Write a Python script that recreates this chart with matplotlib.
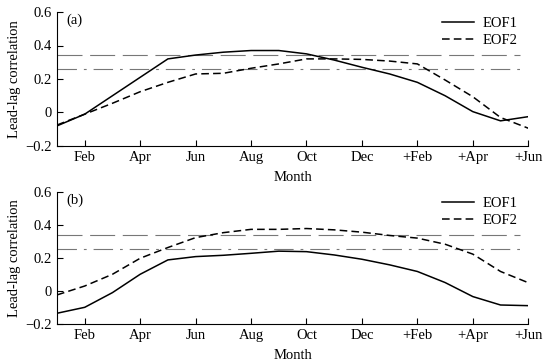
import matplotlib
matplotlib.use('Agg')
from matplotlib import pyplot as plt

plt.rcParams['font.family'] = ['Liberation Serif', 'DejaVu Serif']
plt.rcParams['lines.scale_dashes'] = False

# months from Jan to next Jun
months = list(range(18))
tick_pos = [1, 3, 5, 7, 9, 11, 13, 15, 17]
tick_labels = ['Feb', 'Apr', 'Jun', 'Aug', 'Oct', 'Dec', '+Feb', '+Apr', '+Jun']

eof1_a = [-0.08, -0.01, 0.10, 0.21, 0.32, 0.343, 0.36, 0.37, 0.37, 0.35,
          0.313, 0.27, 0.23, 0.18, 0.10, 0.005, -0.05, -0.025]
eof2_a = [-0.075, -0.01, 0.055, 0.124, 0.18, 0.23, 0.234, 0.264, 0.29, 0.32,
          0.32, 0.317, 0.307, 0.29, 0.194, 0.094, -0.03, -0.094]
eof1_b = [-0.133, -0.097, -0.008, 0.103, 0.19, 0.21, 0.218, 0.23, 0.243, 0.24,
          0.22, 0.194, 0.16, 0.12, 0.053, -0.032, -0.083, -0.087]
eof2_b = [-0.022, 0.032, 0.103, 0.2, 0.265, 0.325, 0.355, 0.375, 0.375, 0.38,
          0.372, 0.358, 0.338, 0.322, 0.285, 0.225, 0.12, 0.052]

sig_long = 0.343
sig_short = 0.258

fig = plt.figure(figsize=(5.59, 3.64), dpi=100)
ax1 = fig.add_axes([0.102, 0.599, 0.843, 0.368])
ax2 = fig.add_axes([0.102, 0.109, 0.843, 0.363])

fs = 10.5
for ax, e1, e2, tag in [(ax1, eof1_a, eof2_a, '(a)'), (ax2, eof1_b, eof2_b, '(b)')]:
    ax.axhline(sig_long, xmin=0, xmax=0.983, color='#777777', lw=0.8, dashes=(18, 5.5))
    ax.axhline(sig_short, xmin=0, xmax=0.983, color='#777777', lw=0.8,
               dashes=(14, 5, 2, 5))
    ax.plot(months, e1, color='black', lw=1.1, label='EOF1')
    ax.plot(months, e2, color='black', lw=1.1, dashes=(5.5, 3), label='EOF2')
    ax.set_xlim(0, 17)
    ax.set_ylim(-0.2, 0.6)
    ax.set_yticks([-0.2, 0, 0.2, 0.4, 0.6])
    ax.set_yticklabels(['\u22120.2', '0', '0.2', '0.4', '0.6'])
    ax.set_xticks(tick_pos)
    ax.set_xticklabels(tick_labels)
    ax.tick_params(direction='in', length=4, width=0.8, labelsize=fs)
    ax.spines['top'].set_visible(False)
    ax.spines['right'].set_visible(False)
    ax.set_xlabel('Month', fontsize=fs, labelpad=5)
    ax.set_ylabel('Lead-lag correlation', fontsize=fs, labelpad=3)
    ax.text(0.02, 0.99, tag, transform=ax.transAxes, fontsize=fs, va='top')
    ax.legend(loc='upper right', bbox_to_anchor=(1.0, 1.04), frameon=False,
              fontsize=fs, handlelength=2.2, handletextpad=0.6,
              labelspacing=0.25, borderpad=0.2)

fig.savefig('out.png', dpi=100)
